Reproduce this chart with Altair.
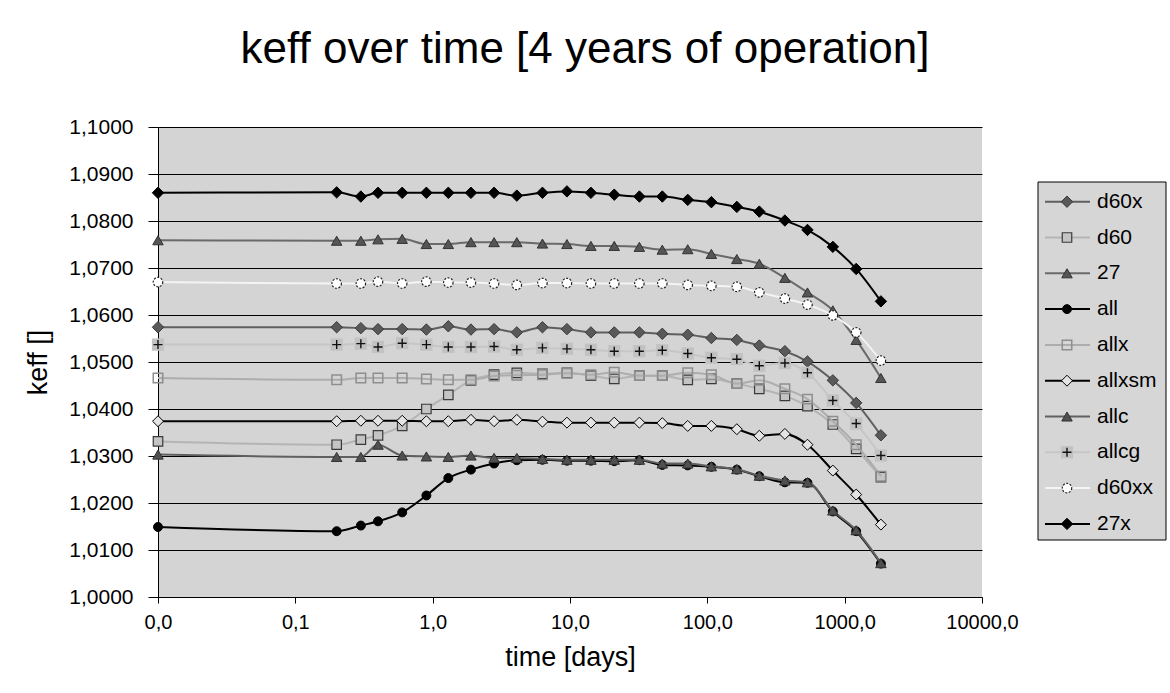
import altair as alt
import pandas as pd

# ---------------- data ----------------
time_days = [0.01, 0.2, 0.3, 0.4, 0.6, 0.9, 1.3, 1.9, 2.8, 4.1, 6.3, 9.5, 14.2, 21,
             32, 47, 72, 107, 164, 239, 367, 536, 820, 1213, 1836]

series_names = ["d60x", "d60", "27", "all", "allx", "allxsm", "allc", "allcg", "d60xx", "27x"]

keff_d60x = [1.0574, 1.0574, 1.0572, 1.0570, 1.0570, 1.0569, 1.0576, 1.0569, 1.0570, 1.0563,
             1.0574, 1.0570, 1.0563, 1.0563, 1.0563, 1.0560, 1.0558, 1.0551, 1.0547, 1.0535,
             1.0523, 1.0501, 1.0461, 1.0413, 1.0344]
keff_d60 = [1.0331, 1.0324, 1.0335, 1.0344, 1.0364, 1.0400, 1.0430, 1.0461, 1.0473, 1.0477,
            1.0475, 1.0477, 1.0471, 1.0464, 1.0471, 1.0471, 1.0462, 1.0464, 1.0454, 1.0443,
            1.0428, 1.0406, 1.0367, 1.0315, 1.0255]
keff_27 = [1.0759, 1.0758, 1.0758, 1.0761, 1.0762, 1.0751, 1.0751, 1.0755, 1.0755, 1.0755,
           1.0752, 1.0751, 1.0747, 1.0747, 1.0745, 1.0739, 1.0740, 1.0730, 1.0719, 1.0709,
           1.0679, 1.0648, 1.0610, 1.0547, 1.0466]
keff_all = [1.0149, 1.0140, 1.0152, 1.0161, 1.0180, 1.0216, 1.0253, 1.0271, 1.0284, 1.0291,
            1.0292, 1.0290, 1.0290, 1.0289, 1.0291, 1.0281, 1.0280, 1.0277, 1.0271, 1.0257,
            1.0244, 1.0243, 1.0182, 1.0140, 1.0071]
keff_allx = [1.0466, 1.0462, 1.0466, 1.0466, 1.0466, 1.0464, 1.0462, 1.0462, 1.0470, 1.0472,
             1.0473, 1.0476, 1.0473, 1.0478, 1.0471, 1.0471, 1.0477, 1.0473, 1.0454, 1.0461,
             1.0443, 1.0421, 1.0374, 1.0324, 1.0257]
keff_allxsm = [1.0374, 1.0374, 1.0375, 1.0375, 1.0375, 1.0374, 1.0374, 1.0377, 1.0374, 1.0377,
               1.0373, 1.0371, 1.0371, 1.0371, 1.0371, 1.0370, 1.0364, 1.0364, 1.0357, 1.0343,
               1.0347, 1.0324, 1.0269, 1.0218, 1.0154]
keff_allc = [1.0303, 1.0298, 1.0298, 1.0324, 1.0301, 1.0299, 1.0298, 1.0301, 1.0296, 1.0296,
             1.0294, 1.0292, 1.0292, 1.0292, 1.0292, 1.0284, 1.0284, 1.0278, 1.0272, 1.0258,
             1.0248, 1.0244, 1.0184, 1.0142, 1.0072]
keff_allcg = [1.0537, 1.0537, 1.0539, 1.0532, 1.0540, 1.0537, 1.0532, 1.0532, 1.0533, 1.0526,
              1.0530, 1.0528, 1.0526, 1.0523, 1.0523, 1.0525, 1.0518, 1.0509, 1.0506, 1.0492,
              1.0498, 1.0477, 1.0418, 1.0369, 1.0301]
keff_d60xx = [1.0670, 1.0667, 1.0667, 1.0671, 1.0667, 1.0671, 1.0669, 1.0669, 1.0667, 1.0664,
              1.0668, 1.0668, 1.0667, 1.0667, 1.0667, 1.0667, 1.0664, 1.0662, 1.0660, 1.0648,
              1.0635, 1.0622, 1.0599, 1.0563, 1.0503]
keff_27x = [1.0860, 1.0861, 1.0852, 1.0860, 1.0860, 1.0860, 1.0860, 1.0860, 1.0860, 1.0854,
            1.0860, 1.0863, 1.0860, 1.0856, 1.0852, 1.0852, 1.0845, 1.0840, 1.0830, 1.0820,
            1.0801, 1.0781, 1.0745, 1.0698, 1.0629]

x_tick_values = [0.01, 0.1, 1, 10, 100, 1000, 10000]
y_tick_values = [1.00, 1.01, 1.02, 1.03, 1.04, 1.05, 1.06, 1.07, 1.08, 1.09, 1.10]

values = {
    "d60x": keff_d60x, "d60": keff_d60, "27": keff_27, "all": keff_all, "allx": keff_allx,
    "allxsm": keff_allxsm, "allc": keff_allc, "allcg": keff_allcg, "d60xx": keff_d60xx,
    "27x": keff_27x,
}

rows = []
for name in series_names:
    for t, v in zip(time_days, values[name]):
        rows.append({"series": name, "time": t, "keff": v})
df = pd.DataFrame(rows)
legend_df = pd.DataFrame({"series": series_names})

# ---------------- styles ----------------
FONT = "Liberation Sans"
PLUS = "M-1,0L1,0M0,-1L0,1"

styles = {
    "d60x":   dict(line="#5f5f5f", shape="diamond", fill="#595959", stroke="#3a3a3a", size=130, sw=1),
    "d60":    dict(line="#b4b4b4", shape="square", fill="#c4c4c4", stroke="#3a3a3a", size=90, sw=1.2),
    "27":     dict(line="#6a6a6a", shape="triangle-up", fill="#555555", stroke="#333333", size=110, sw=1),
    "all":    dict(line="#000000", shape="circle", fill="#000000", stroke="#000000", size=80, sw=1),
    "allx":   dict(line="#adadad", shape="square", fill=None, stroke="#8e8e8e", size=90, sw=1.5),
    "allxsm": dict(line="#000000", shape="diamond", fill="#e4e4e4", stroke="#000000", size=120, sw=1),
    "allc":   dict(line="#606060", shape="triangle-up", fill="#505050", stroke="#333333", size=110, sw=1),
    "allcg":  dict(line="#c6c6c6", shape="plus", fill="#c2c2c2", stroke="#111111", size=81, sw=1.4),
    "d60xx":  dict(line="#f4f4f4", shape="circle", fill="#ffffff", stroke="#222222", size=90, sw=1.2),
    "27x":    dict(line="#000000", shape="diamond", fill="#000000", stroke="#000000", size=130, sw=1),
}

x_enc = alt.X(
    "time:Q",
    scale=alt.Scale(type="log", domain=[0.01, 10000], nice=False),
    axis=alt.Axis(values=x_tick_values, grid=False, title="time [days]",
                  labelExpr="replace(format(datum.value, '.1f'), '.', ',')",
                  tickSize=6, labelPadding=9, titlePadding=12, labelFlush=False,
                  labelFontSize=20, titleFontSize=27),
)
y_enc = alt.Y(
    "keff:Q",
    scale=alt.Scale(domain=[1.0, 1.1], nice=False, zero=False),
    axis=alt.Axis(values=y_tick_values, grid=True, title="keff []",
                  labelExpr="replace(format(datum.value, '.4f'), '.', ',')",
                  tickSize=10, labelPadding=15, titlePadding=16,
                  labelFontSize=21, titleFontSize=27),
)


def point_marks(base, st, enc):
    out = []
    if st["shape"] == "plus":
        out.append(base.mark_point(shape="square", filled=True, fill=st["fill"], strokeWidth=0,
                                   size=150, opacity=1).encode(**enc))
        out.append(base.mark_point(shape=PLUS, filled=False, stroke=st["stroke"],
                                   strokeWidth=st["sw"], size=st["size"], opacity=1).encode(**enc))
    elif st["fill"] is None:
        out.append(base.mark_point(shape=st["shape"], filled=False, stroke=st["stroke"],
                                   strokeWidth=st["sw"], size=st["size"], opacity=1).encode(**enc))
    else:
        kw = {}
        if st["shape"] == "circle" and st["fill"] == "#ffffff":
            kw["strokeDash"] = [2, 1.5]
        out.append(base.mark_point(shape=st["shape"], filled=True, fill=st["fill"],
                                   stroke=st["stroke"], strokeWidth=st["sw"], size=st["size"],
                                   opacity=1, **kw).encode(**enc))
    return out


layers = []
for name in series_names:
    st = styles[name]
    base = alt.Chart(df).transform_filter(alt.datum.series == name)
    layers.append(base.mark_line(color=st["line"], strokeWidth=2, interpolate="monotone")
                  .encode(x=x_enc, y=y_enc))
    layers += point_marks(base, st, dict(x=x_enc, y=y_enc))

# ---------------- legend (drawn by hand, outside the plot area) ----------------
LX0, LX1, LY0, LY1 = 880, 1008, 55, 413
layers.append(
    alt.Chart(pd.DataFrame({"k": [0]})).mark_rect(fill="#d6d6d6", stroke="black", strokeWidth=1)
    .encode(x=alt.value(LX0), x2=alt.value(LX1), y=alt.value(LY0), y2=alt.value(LY1))
)
for i, name in enumerate(series_names):
    st = styles[name]
    ly = 74.7 + i * 35.8
    lbase = alt.Chart(legend_df).transform_filter(alt.datum.series == name)
    layers.append(lbase.mark_rule(color=st["line"], strokeWidth=2)
                  .encode(x=alt.value(887), x2=alt.value(932), y=alt.value(ly)))
    layers += point_marks(lbase, st, dict(x=alt.value(909), y=alt.value(ly)))
    layers.append(lbase.mark_text(align="left", baseline="middle", font=FONT, fontSize=21,
                                  color="black")
                  .encode(x=alt.value(939), y=alt.value(ly), text="series:N"))

chart = (
    alt.layer(*layers)
    .properties(
        width=824, height=470,
        autosize=alt.AutoSizeParams(type="none"),
        padding={"left": 158, "top": 127, "right": 188, "bottom": 96},
        title=alt.Title("keff over time [4 years of operation]", font=FONT, fontSize=44,
                        fontWeight="normal", color="black", anchor="middle", dx=15, offset=44),
    )
    .configure(background="white")
    .configure_view(fill="#d4d4d4", stroke=None)
    .configure_axis(domainColor="black", tickColor="black", labelColor="black",
                    titleColor="black", labelFont=FONT, titleFont=FONT,
                    titleFontWeight="normal", gridColor="black",
                    gridOpacity=1, gridWidth=1, domainWidth=1, tickWidth=1)
)

chart.save("out.html", embed_options={"renderer": "svg", "actions": False})
